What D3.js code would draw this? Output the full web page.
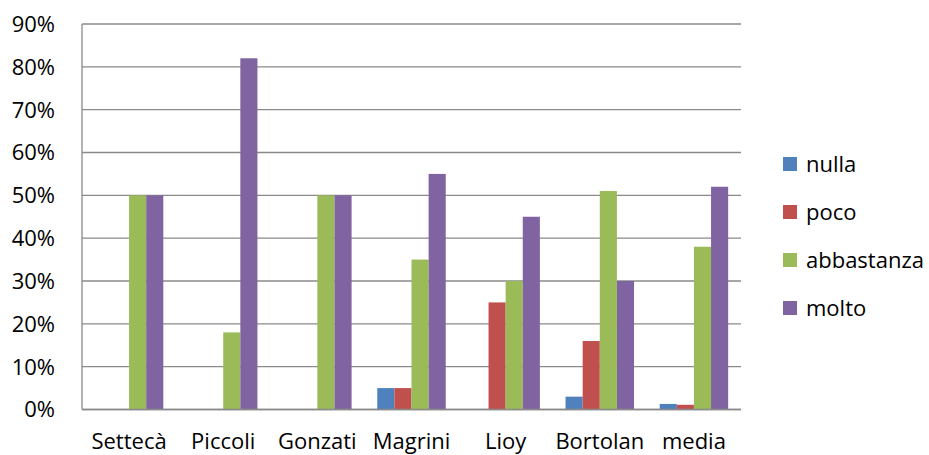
<!DOCTYPE html>
<html><head><meta charset="utf-8">
<script src="https://cdn.jsdelivr.net/npm/d3@7"></script>
<style>body{margin:0;background:#fff}svg{display:block}text{font-family:"Open Sans",sans-serif;fill:#000}</style>
</head><body>
<svg id="c" width="929" height="455"></svg>
<script>
const categories = ["Settecà","Piccoli","Gonzati","Magrini","Lioy","Bortolan","media"];
const seriesNames = ["nulla","poco","abbastanza","molto"];
const nulla = [0,0,0,5,0,3,1.3];
const poco = [0,0,0,5,25,16,1.1];
const abbastanza = [50,18,50,35,30,51,38];
const molto = [50,82,50,55,45,30,52];
const colors = ["#4F81BD","#C0504D","#9BBB59","#8064A2"];
const yTicks = [0,10,20,30,40,50,60,70,80,90];

(function(){
const values = [nulla,poco,abbastanza,molto];
const svg = d3.select("#c");
const pL = 82, pR = 741, pT = 24, pB = 409.5;
const x = d3.scaleBand().domain(categories).range([pL,pR]).paddingInner(0).paddingOuter(0);
const bw = x.bandwidth()/5.5;
const xs = d3.scaleBand().domain(seriesNames).range([0, bw*4]);
const y = d3.scaleLinear().domain([0,90]).range([pB, pT]);

svg.append("g").selectAll("line").data(yTicks).join("line")
  .attr("x1",pL).attr("x2",pR)
  .attr("y1",d=>y(d)).attr("y2",d=>y(d))
  .attr("stroke","#8a8a8a").attr("stroke-width",1.3);
svg.append("line").attr("x1",pL).attr("x2",pL).attr("y1",pT).attr("y2",pB)
  .attr("stroke","#8a8a8a").attr("stroke-width",1.3);

svg.append("g").selectAll("text").data(yTicks).join("text")
  .attr("x",55).attr("y",d=>y(d)).attr("dy","0.36em")
  .attr("text-anchor","end").attr("font-size",22)
  .text(d=>d+"%");

seriesNames.forEach((s,si)=>{
  svg.append("g").selectAll("rect").data(categories).join("rect")
    .attr("x",(c)=>x(c)+bw*0.75+xs(s))
    .attr("width",xs.bandwidth())
    .attr("y",(c,i)=>y(values[si][i]))
    .attr("height",(c,i)=>y(0)-y(values[si][i]))
    .attr("fill",colors[si]);
});

svg.append("line").attr("x1",pL).attr("x2",pR).attr("y1",y(0)).attr("y2",y(0))
  .attr("stroke","#8a8a8a").attr("stroke-width",1.3);

svg.append("g").selectAll("text").data(categories).join("text")
  .attr("x",c=>x(c)+x.bandwidth()/2).attr("y",449)
  .attr("text-anchor","middle").attr("font-size",22)
  .text(c=>c);

const lg = svg.append("g");
seriesNames.forEach((s,i)=>{
  const cy = 164 + i*48;
  lg.append("rect").attr("x",783).attr("y",cy-7).attr("width",14).attr("height",14).attr("fill",colors[i]);
  lg.append("text").attr("x",806).attr("y",cy).attr("dy","0.36em").attr("font-size",22).text(s);
});
})();
</script>
</body></html>
